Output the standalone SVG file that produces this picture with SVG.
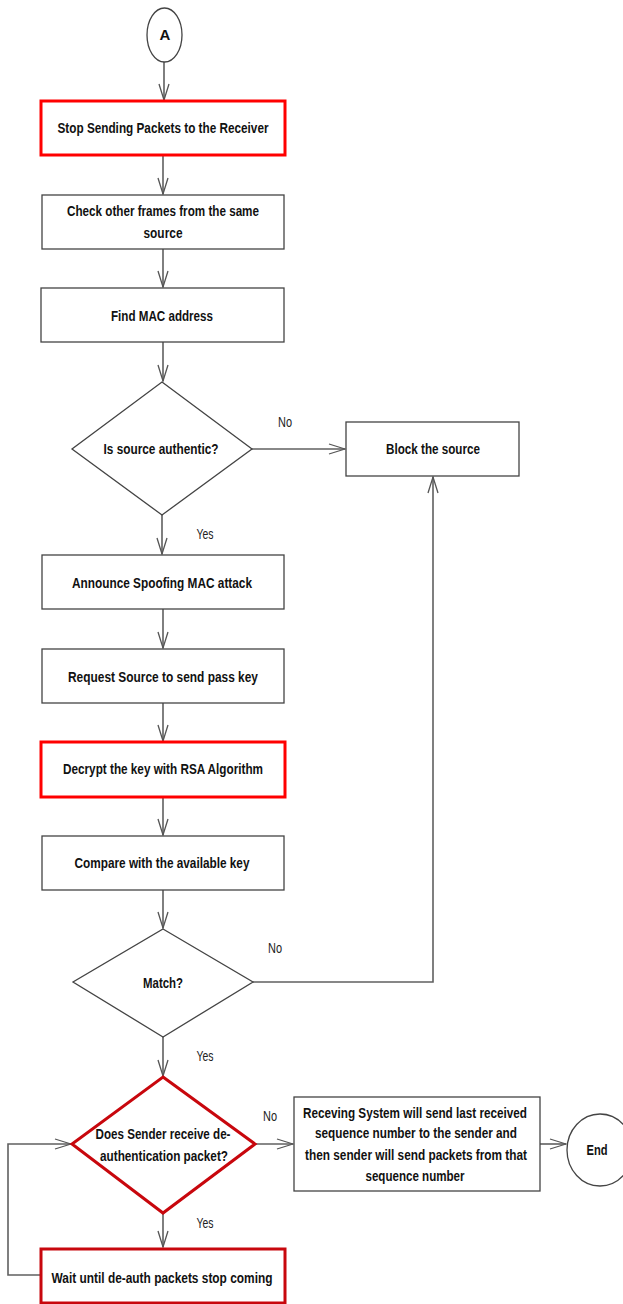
<svg xmlns="http://www.w3.org/2000/svg" width="623" height="1304" viewBox="0 0 623 1304">
  <defs>
    <marker id="arrow" viewBox="0 0 18 12" refX="17" refY="6" markerWidth="18" markerHeight="12" markerUnits="userSpaceOnUse" orient="auto">
      <polyline points="1,1 17,6 1,11" fill="none" stroke="#555" stroke-width="1.3"/>
    </marker>
    <style>
      .box { fill: #fff; stroke: #444; stroke-width: 1.3; }
      .hot { fill: #fff; stroke: #f00; stroke-width: 3; }
      .hot2 { fill: #fff; stroke: #c8070d; stroke-width: 3; }
      .term { fill: #fff; stroke: #444; stroke-width: 1.3; }
      .lbl { font-family: "Liberation Sans Narrow", "Liberation Sans", Arial, sans-serif; font-weight: bold; font-size: 15px; fill: #111; text-anchor: middle; }
      .tag { font-family: "Liberation Sans Narrow", "Liberation Sans", Arial, sans-serif; font-size: 14px; fill: #222; text-anchor: middle; }
      .wire { fill: none; stroke: #606060; stroke-width: 1.6; }
      .wire.arr { marker-end: url(#arrow); }
    </style>
  </defs>
  <rect width="623" height="1304" fill="#fff"/>

  <!-- connectors -->
  <g id="connectors">
    <path class="wire arr" d="M164,62 V100"/>
    <path class="wire arr" d="M163,156 V194"/>
    <path class="wire arr" d="M163,249 V287"/>
    <path class="wire arr" d="M163,342 V381"/>
    <path class="wire arr" d="M252,449 H345"/>
    <path class="wire arr" d="M162,515 V554"/>
    <path class="wire arr" d="M163,609 V648"/>
    <path class="wire arr" d="M163,703 V741"/>
    <path class="wire arr" d="M163,798 V835"/>
    <path class="wire arr" d="M163,890 V928"/>
    <path class="wire arr" d="M253,982 H433 V477"/>
    <path class="wire arr" d="M163,1037 V1076"/>
    <path class="wire arr" d="M255,1144 H293"/>
    <path class="wire arr" d="M540,1144 H566"/>
    <path class="wire arr" d="M163,1213 V1247"/>
    <path class="wire arr" d="M40,1275 H8 V1144 H71"/>
  </g>

  <g id="start">
    <ellipse class="term" cx="164.5" cy="35" rx="17.5" ry="27"/>
    <text class="lbl" x="165" y="40">A</text>
  </g>

  <g id="stop-sending">
    <rect class="hot" x="41" y="101" width="244" height="54"/>
    <text class="lbl" x="163" y="133" textLength="211" lengthAdjust="spacingAndGlyphs">Stop Sending Packets to the Receiver</text>
  </g>

  <g id="check-frames">
    <rect class="box" x="42" y="195" width="242" height="54"/>
    <text class="lbl" x="163" y="216" textLength="192" lengthAdjust="spacingAndGlyphs">Check other frames from the same</text>
    <text class="lbl" x="163" y="238" textLength="39" lengthAdjust="spacingAndGlyphs">source</text>
  </g>

  <g id="find-mac">
    <rect class="box" x="41" y="288" width="243" height="54"/>
    <text class="lbl" x="162" y="321" textLength="102" lengthAdjust="spacingAndGlyphs">Find MAC address</text>
  </g>

  <g id="is-authentic">
    <polygon class="box" points="162,382 252,449 162,515 72,449"/>
    <text class="lbl" x="161" y="454" textLength="115" lengthAdjust="spacingAndGlyphs">Is source authentic?</text>
  </g>

  <g id="block-source">
    <rect class="box" x="346" y="422" width="173" height="54"/>
    <text class="lbl" x="433" y="454" textLength="94" lengthAdjust="spacingAndGlyphs">Block the source</text>
  </g>

  <g id="announce">
    <rect class="box" x="42" y="555" width="242" height="54"/>
    <text class="lbl" x="162" y="588" textLength="180" lengthAdjust="spacingAndGlyphs">Announce Spoofing MAC attack</text>
  </g>

  <g id="request-key">
    <rect class="box" x="42" y="649" width="242" height="54"/>
    <text class="lbl" x="163" y="682" textLength="190" lengthAdjust="spacingAndGlyphs">Request Source to send pass key</text>
  </g>

  <g id="decrypt">
    <rect class="hot" x="41" y="742" width="244" height="55"/>
    <text class="lbl" x="163" y="774" textLength="200" lengthAdjust="spacingAndGlyphs">Decrypt the key with RSA Algorithm</text>
  </g>

  <g id="compare">
    <rect class="box" x="42" y="836" width="242" height="54"/>
    <text class="lbl" x="162" y="868" textLength="175" lengthAdjust="spacingAndGlyphs">Compare with the available key</text>
  </g>

  <g id="match">
    <polygon class="box" points="163,929 253,982 163,1037 73,982"/>
    <text class="lbl" x="163" y="988" textLength="40" lengthAdjust="spacingAndGlyphs">Match?</text>
  </g>

  <g id="deauth-check">
    <polygon class="hot2" points="163,1077 255,1144 163,1213 72,1144"/>
    <text class="lbl" x="163" y="1139" textLength="135" lengthAdjust="spacingAndGlyphs">Does Sender receive de-</text>
    <text class="lbl" x="164" y="1161" textLength="128" lengthAdjust="spacingAndGlyphs">authentication packet?</text>
  </g>

  <g id="resend">
    <rect class="box" x="294" y="1097" width="246" height="94"/>
    <text class="lbl" x="415" y="1118" textLength="224" lengthAdjust="spacingAndGlyphs">Receving System will send last received</text>
    <text class="lbl" x="416" y="1138" textLength="202" lengthAdjust="spacingAndGlyphs">sequence number to the sender and</text>
    <text class="lbl" x="416" y="1160" textLength="222" lengthAdjust="spacingAndGlyphs">then sender will send packets from that</text>
    <text class="lbl" x="415" y="1181" textLength="99" lengthAdjust="spacingAndGlyphs">sequence number</text>
  </g>

  <g id="end">
    <ellipse class="term" cx="600" cy="1150" rx="33" ry="36"/>
    <text class="lbl" x="597" y="1155" textLength="21" lengthAdjust="spacingAndGlyphs">End</text>
  </g>

  <g id="wait">
    <rect class="hot2" x="41" y="1249" width="244" height="54"/>
    <text class="lbl" x="162" y="1283" textLength="221" lengthAdjust="spacingAndGlyphs">Wait until de-auth packets stop coming</text>
  </g>

  <g id="branch-labels">
    <text class="tag" x="285" y="427" textLength="14" lengthAdjust="spacingAndGlyphs">No</text>
    <text class="tag" x="205" y="539" textLength="17" lengthAdjust="spacingAndGlyphs">Yes</text>
    <text class="tag" x="275" y="953" textLength="14" lengthAdjust="spacingAndGlyphs">No</text>
    <text class="tag" x="205" y="1061" textLength="17" lengthAdjust="spacingAndGlyphs">Yes</text>
    <text class="tag" x="270" y="1121" textLength="14" lengthAdjust="spacingAndGlyphs">No</text>
    <text class="tag" x="205" y="1228" textLength="17" lengthAdjust="spacingAndGlyphs">Yes</text>
  </g>
</svg>
